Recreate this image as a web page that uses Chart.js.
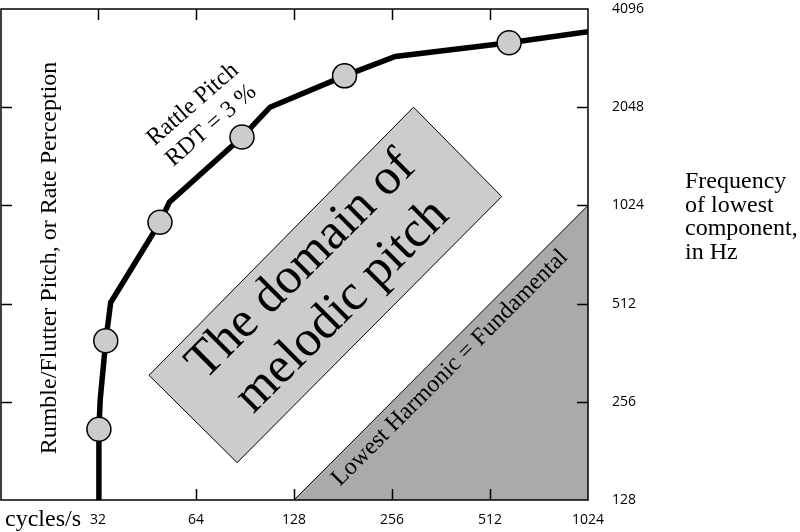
<!DOCTYPE html>
<html>
<head>
<meta charset="utf-8">
<script src="https://cdn.jsdelivr.net/npm/chart.js@4.4.1/dist/chart.umd.min.js"></script>
<style>
  html, body { margin: 0; padding: 0; background: #fff; }
</style>
</head>
<body>
<canvas id="chart" width="800" height="532"></canvas>
<script>
const xTicks = [32, 64, 128, 256, 512, 1024];
const yTicks = [128, 256, 512, 1024, 2048, 4096];

// rattle / flutter limit curve
const curveX = [32, 32.2, 32.5, 33.8, 35, 49.6, 53, 88.6, 108, 183, 262, 586, 1024];
const curveY = [128, 211, 260, 394, 516, 909, 1047, 1659, 2048, 2555, 2931, 3226, 3487];
const markerX = [32.2, 33.8, 49.6, 88.6, 183, 586];
const markerY = [211, 394, 909, 1659, 2555, 3226];

// "domain of melodic pitch" box corners
const boxX = [298, 556, 85.6, 45.9, 298];
const boxY = [2048, 1090, 166.6, 308.7, 2048];

// lowest harmonic = fundamental
const harmX = [128, 1024];
const harmY = [128, 1024];

const pts = (xs, ys) => xs.map((x, i) => ({ x: x, y: ys[i] }));

const serif = '"Liberation Serif", "DejaVu Serif", serif';

function rotText(ctx, lines, cx, cy, angle, size, gap) {
  ctx.save();
  ctx.translate(cx, cy);
  ctx.rotate(angle * Math.PI / 180);
  ctx.font = size + 'px ' + serif;
  ctx.textAlign = 'center';
  ctx.textBaseline = 'middle';
  const off = (lines.length - 1) * gap / 2;
  lines.forEach((t, i) => ctx.fillText(t, 0, i * gap - off));
  ctx.restore();
}

const frame = {
  id: 'frame',
  afterDatasetsDraw(chart) {
    const ctx = chart.ctx;
    const a = chart.chartArea;
    const xs = chart.scales.x, ys = chart.scales.y;
    ctx.save();
    ctx.strokeStyle = '#000';
    ctx.lineWidth = 1.5;
    ctx.strokeRect(a.left, a.top, a.right - a.left, a.bottom - a.top);
    ctx.beginPath();
    xTicks.slice(0, -1).forEach(v => {
      const px = Math.round(xs.getPixelForValue(v)) + 0.5;
      ctx.moveTo(px, a.bottom); ctx.lineTo(px, a.bottom - 11);
      ctx.moveTo(px, a.top); ctx.lineTo(px, a.top + 11);
    });
    yTicks.slice(1, -1).forEach(v => {
      const py = Math.round(ys.getPixelForValue(v)) + 0.5;
      ctx.moveTo(a.left, py); ctx.lineTo(a.left + 11, py);
      ctx.moveTo(a.right, py); ctx.lineTo(a.right - 11, py);
    });
    ctx.stroke();
    ctx.restore();
  },
  afterDraw(chart) {
    const ctx = chart.ctx;
    ctx.save();
    ctx.fillStyle = '#000';

    ctx.font = '24px ' + serif;
    ctx.textAlign = 'left';
    ctx.textBaseline = 'alphabetic';
    ctx.fillText('cycles/s', 5, 526);
    ['Frequency', 'of lowest', 'component,', 'in Hz'].forEach((t, i) => {
      ctx.fillText(t, 685, 188 + i * 23.5);
    });

    rotText(ctx, ['Rumble/Flutter Pitch, or Rate Perception'], 50, 258, -90, 24, 0);
    rotText(ctx, ['Rattle Pitch', 'RDT = 3 %'], 202, 115, -41, 24, 28);
    rotText(ctx, ['The domain of', 'melodic pitch'], 322, 286, -45, 51, 58);
    rotText(ctx, ['Lowest Harmonic = Fundamental'], 450, 368, -45, 24, 0);
    ctx.restore();
  }
};

new Chart(document.getElementById('chart'), {
  type: 'line',
  data: {
    datasets: [
      {
        data: pts(markerX, markerY),
        showLine: false,
        pointRadius: 12,
        pointBackgroundColor: '#cccccc',
        pointBorderColor: '#000',
        pointBorderWidth: 1.5
      },
      {
        data: pts(curveX, curveY),
        borderColor: '#000',
        borderWidth: 5.5,
        borderJoinStyle: 'miter',
        pointRadius: 0,
        tension: 0,
        fill: false
      },
      {
        data: pts(boxX, boxY),
        borderColor: '#000',
        borderWidth: 1,
        backgroundColor: '#cccccc',
        pointRadius: 0,
        tension: 0,
        fill: 'shape'
      },
      {
        data: pts(harmX, harmY),
        borderColor: '#000',
        borderWidth: 1,
        backgroundColor: '#aaaaaa',
        pointRadius: 0,
        tension: 0,
        fill: 'start'
      }
    ]
  },
  options: {
    responsive: false,
    animation: false,
    layout: { autoPadding: false, padding: { left: 1, top: 9, right: 0, bottom: 0 } },
    plugins: {
      legend: { display: false },
      tooltip: { enabled: false }
    },
    scales: {
      x: {
        type: 'logarithmic',
        min: 16.11,
        max: 1024,
        afterBuildTicks: s => { s.ticks = xTicks.map(v => ({ value: v })); },
        afterFit: s => { s.height = 32; },
        grid: { display: true, drawOnChartArea: false, drawTicks: true, tickLength: 12, color: 'rgba(0,0,0,0)' },
        border: { display: false },
        ticks: {
          autoSkip: false,
          maxRotation: 0,
          padding: 0,
          color: '#000',
          font: { family: 'Open Sans', size: 14 },
          callback: v => String(v)
        }
      },
      y: {
        type: 'logarithmic',
        position: 'right',
        min: 128,
        max: 4096,
        afterBuildTicks: s => { s.ticks = yTicks.map(v => ({ value: v })); },
        afterFit: s => { s.width = 212; },
        grid: { display: true, drawOnChartArea: false, drawTicks: true, tickLength: 24, color: 'rgba(0,0,0,0)' },
        border: { display: false },
        ticks: {
          autoSkip: false,
          padding: 0,
          color: '#000',
          font: { family: 'Open Sans', size: 14 },
          callback: v => String(v)
        }
      }
    }
  },
  plugins: [frame]
});
</script>
</body>
</html>
